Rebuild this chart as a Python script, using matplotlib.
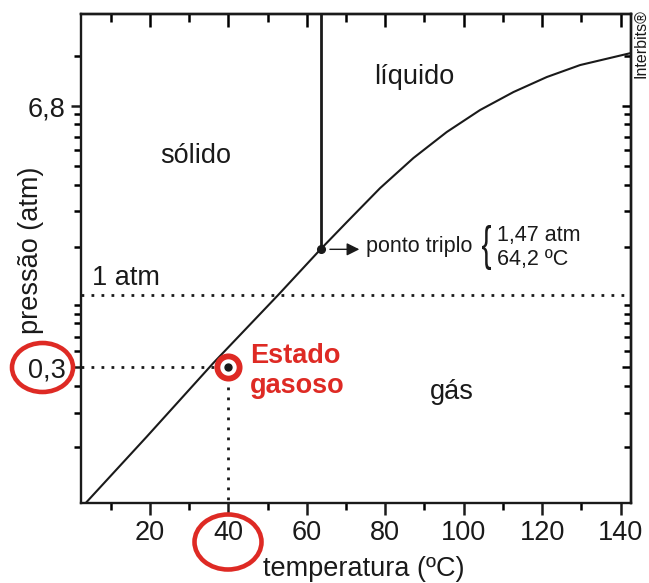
import matplotlib
matplotlib.use("Agg")
import matplotlib.pyplot as plt
from matplotlib.patches import Ellipse, PathPatch
from matplotlib.textpath import TextPath
from matplotlib.font_manager import FontProperties
from matplotlib.transforms import Affine2D, IdentityTransform
from matplotlib.ticker import NullFormatter

plt.rcParams['font.family'] = ['Liberation Sans', 'DejaVu Sans']

# ---- data ----
# sublimation / vaporisation curve (temperature in ºC, pressure in atm, log axis)
curve_T = [3.7, 19.2, 36.1, 52.7, 63.5, 70.2, 78.7, 87.2, 95.7, 104.2, 112.7, 121.2, 129.7, 142.6]
curve_p = [0.0796, 0.178, 0.435, 1.0, 1.745, 2.43, 3.68, 5.31, 7.29, 9.53, 11.86, 14.24, 16.48, 19.07]
# triple point (as drawn)
triple_T = 63.5
triple_p = 1.745
# marked point "Estado gasoso"
point_T = 40
point_p = 0.414
# 1 atm reference line
p_1atm = 1.0

x_major = [20, 40, 60, 80, 100, 120, 140]
x_major_labels = ['20', '40', '60', '80', '100', '120', '140']
x_minor = [10, 30, 50, 70, 90, 110, 130]
y_major = [0.414, 10]
y_major_labels = ['0,3', '6,8']
y_minor = [0.156, 0.238, 0.33, 0.507, 0.602, 0.708, 0.793, 0.885,
           1.8, 2.79, 3.82, 4.81, 5.85, 6.87, 8.03, 9.05, 18.4]

W, H = 649, 583
RED = '#de2a24'
INK = '#1a1a1a'
BIG = 19.5
SMALL = 15.5

fig = plt.figure(figsize=(W / 100, H / 100), dpi=100)
ax = fig.add_axes([81.3 / W, 1 - 503 / H, (630.7 - 81.3) / W, (503 - 14) / H])
ax.set_yscale('log')
xlim = (2.5, 142.6)
ylim = (0.0793, 30.7)
ax.set_xlim(*xlim)
ax.set_ylim(*ylim)

for s in ax.spines.values():
    s.set_linewidth(1.7)
    s.set_color(INK)

# ticks bottom / left (outward)
ax.set_xticks(x_major, labels=x_major_labels)
ax.set_xticks(x_minor, minor=True)
ax.set_yticks(y_major, labels=y_major_labels)
ax.set_yticks(y_minor, minor=True)
ax.yaxis.set_minor_formatter(NullFormatter())
ax.tick_params(axis='x', which='major', direction='out', length=8.8, width=1.8,
               labelsize=BIG, pad=3.5, colors=INK)
ax.tick_params(axis='x', which='minor', direction='out', length=5.2, width=1.8)
ax.tick_params(axis='y', which='major', direction='out', length=7.2, width=1.8,
               labelsize=BIG, pad=4, colors=INK)
ax.tick_params(axis='y', which='minor', direction='out', length=5.0, width=1.8)

# mirrored ticks top / right (inward)
tx = ax.secondary_xaxis('top')
tx.set_xticks(x_major, labels=[])
tx.set_xticks(x_minor, minor=True)
tx.tick_params(which='major', direction='in', length=9.5, width=1.8)
tx.tick_params(which='minor', direction='in', length=5.5, width=1.8)
tx.spines['top'].set_linewidth(1.7)
ry = ax.secondary_yaxis('right')
ry.set_yscale('log')
ry.set_yticks(y_major, labels=[])
ry.set_yticks(y_minor, minor=True)
ry.yaxis.set_minor_formatter(NullFormatter())
ry.tick_params(which='major', direction='in', length=6.5, width=1.8)
ry.tick_params(which='minor', direction='in', length=5.2, width=1.8)
ry.spines['right'].set_linewidth(1.7)

# axis labels
ax.set_xlabel('temperatura (ºC)', fontsize=BIG, va='center', ha='center', color=INK)
ax.xaxis.set_label_coords((364 - 81.3) / 549.4, (503 - 569) / 489)
ax.set_ylabel('pressão (atm)', fontsize=BIG, va='center', ha='center', color=INK)
ax.yaxis.set_label_coords((31 - 81.3) / 549.4, (503 - 250) / 489)

# curves
ax.plot(curve_T, curve_p, color=INK, lw=1.5, solid_capstyle='butt',
        solid_joinstyle='round', zorder=3)
ax.plot([triple_T, triple_T], [triple_p, ylim[1]], color=INK, lw=2.0, zorder=3)
ax.plot([triple_T], [triple_p], 'o', color=INK, ms=5.5, zorder=4)

# dotted guides
dots = (0, (1, 2.6))
ax.plot(list(xlim), [p_1atm, p_1atm], color=INK, lw=2.0, ls=dots, zorder=2)
ax.plot([xlim[0], point_T], [point_p, point_p], color=INK, lw=2.0, ls=dots, zorder=2)
ax.plot([point_T, point_T], [point_p, ylim[0]], color=INK, lw=2.0, ls=dots, zorder=2)

# marked point
ax.plot([point_T], [point_p], 'o', ms=16, mfc='white', mec=RED, mew=4.2, zorder=5)
ax.plot([point_T], [point_p], 'o', ms=5.0, color=INK, zorder=6)

# region labels
ax.text(31.6, 5.01, 'sólido', fontsize=BIG, ha='center', va='baseline', color=INK)
ax.text(87.3, 13.07, 'líquido', fontsize=BIG, ha='center', va='baseline', color=INK)
ax.text(97.0, 0.2806, 'gás', fontsize=BIG, ha='center', va='baseline', color=INK)
ax.text(5.13, 1.13, '1 atm', fontsize=BIG, ha='left', va='baseline', color=INK)
ax.text(45.5, 0.435, 'Estado', fontsize=BIG, fontweight='bold', ha='left', va='baseline', color=RED)
ax.text(45.5, 0.304, 'gasoso', fontsize=BIG, fontweight='bold', ha='left', va='baseline', color=RED)

# triple point annotation
ax.annotate('', xy=(73.4, triple_p), xytext=(65.9, triple_p),
            arrowprops=dict(arrowstyle='-|>', color=INK, lw=1.0, mutation_scale=19,
                            shrinkA=0, shrinkB=0))
ax.text(75.1, 1.694, 'ponto triplo', fontsize=SMALL, ha='left', va='baseline', color=INK)
ax.text(108.4, 1.938, '1,47 atm', fontsize=SMALL, ha='left', va='baseline', color=INK)
ax.text(108.4, 1.441, '64,2 ºC', fontsize=SMALL, ha='left', va='baseline', color=INK)

# brace
tp = TextPath((0, 0), '{', size=30, prop=FontProperties(family='Liberation Sans'))
ext = tp.get_extents()
bx0, by_top, bw, bh = 482, 225, 9, 45
tr = (Affine2D().translate(-ext.x0, -ext.y0)
      .scale(bw / ext.width, bh / ext.height)
      .translate(bx0, H - (by_top + bh)))
brace = PathPatch(tr.transform_path(tp), transform=IdentityTransform(),
                  facecolor=INK, edgecolor='none')
fig.add_artist(brace)

# red ellipses around tick labels
for cx, cy, ew, eh in [(228, 542, 67, 55), (42.5, 367.5, 61, 49)]:
    e = Ellipse((cx / W, 1 - cy / H), ew / W, eh / H, transform=fig.transFigure,
                fill=False, edgecolor=RED, lw=3.3)
    fig.add_artist(e)

fig.text(641 / W, 1 - 9 / H, 'Interbits®', rotation=90, ha='center', va='top',
         fontsize=11.5, color=INK)

fig.savefig('out.png', dpi=100)
